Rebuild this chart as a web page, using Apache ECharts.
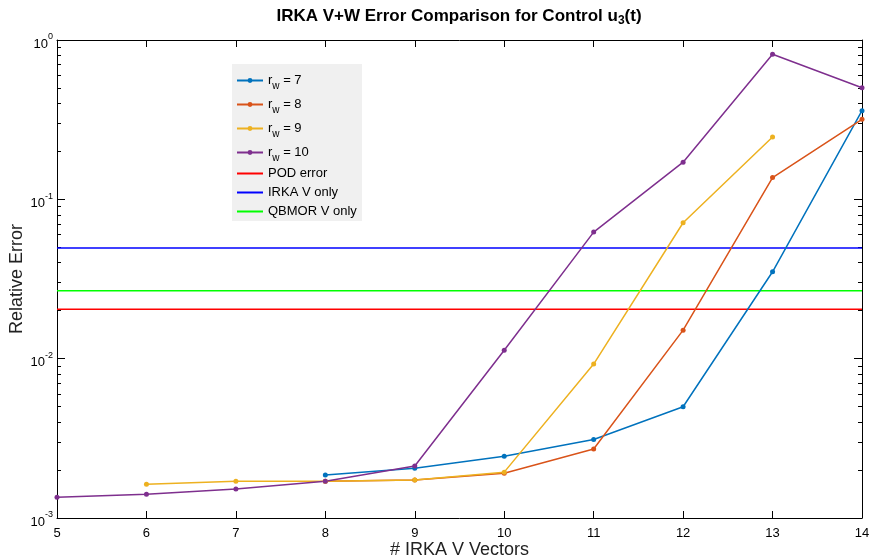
<!DOCTYPE html>
<html><head><meta charset="utf-8">
<script src="https://cdn.jsdelivr.net/npm/echarts@6/dist/echarts.min.js"></script>
<style>html,body{margin:0;padding:0;background:#fff}#c{width:869px;height:559px}</style>
</head><body><div id="c"></div>
<script>
// ---- data ----
const xRw7  = [8, 9, 10, 11, 12, 13, 14];
const yRw7  = [0.00186, 0.00205, 0.00244, 0.00311, 0.00499, 0.0351, 0.360];
const xRw8  = [8, 9, 10, 11, 12, 13, 14];
const yRw8  = [0.00170, 0.00173, 0.00191, 0.00271, 0.0151, 0.137, 0.318];
const xRw9  = [6, 7, 8, 9, 10, 11, 12, 13];
const yRw9  = [0.00163, 0.00170, 0.00170, 0.00173, 0.00194, 0.00925, 0.0713, 0.246];
const xRw10 = [5, 6, 7, 8, 9, 10, 11, 12, 13, 14];
const yRw10 = [0.00135, 0.00141, 0.00152, 0.00170, 0.00212, 0.0113, 0.0623, 0.171, 0.813, 0.502];
const podError = 0.0204;
const irkaVOnly = 0.0495;
const qbmorVOnly = 0.0267;
const xRange = [5, 14];
const yMinorTicks = [0.002,0.003,0.004,0.005,0.006,0.007,0.008,0.009,
                     0.02,0.03,0.04,0.05,0.06,0.07,0.08,0.09,
                     0.2,0.3,0.4,0.5,0.6,0.7,0.8,0.9];

const FONT = '"Liberation Sans", Arial, Helvetica, sans-serif';
const pair = (xs, ys) => xs.map((x, i) => [x, ys[i]]);
const hline = v => xRange.map(x => [x, v]);

const chart = echarts.init(document.getElementById('c'));
const axisLineStyle = {color: '#000', width: 1};
const supRich = {
  b: {fontSize: 13, fontFamily: FONT, color: '#000', padding: [8, 0, 0, 0]},
  s: {fontSize: 9, fontFamily: FONT, color: '#000', verticalAlign: 'top', padding: [3, 0, 3, 0]}
};
const yFmt = v => '{b|10}{s|' + Math.round(Math.log10(v)) + '}';

function yMajor(pos, labels) {
  return {
    type: 'log', logBase: 10, min: 0.001, max: 1, position: pos,
    axisLine: {show: true, onZero: false, lineStyle: axisLineStyle},
    axisTick: {show: true, inside: true, length: 8, lineStyle: {color: '#000'}},
    axisLabel: labels ? {show: true, formatter: yFmt, rich: supRich, margin: 4} : {show: false},
    splitLine: {show: false},
    minorTick: {show: false}
  };
}
// minor tick ruler (log10 space), carries no data
function yMinor(pos) {
  return {
    type: 'value', min: -3, max: 0, position: pos,
    axisLine: {show: false},
    axisTick: {show: true, inside: true, length: 4, lineStyle: {color: '#000'},
               customValues: yMinorTicks.map(v => Math.log10(v))},
    axisLabel: {show: false}, splitLine: {show: false}
  };
}

const legendRich = {
  r: {fontSize: 13, fontFamily: FONT, color: '#000'},
  w: {fontSize: 10, fontFamily: FONT, color: '#000', verticalAlign: 'bottom', padding: [11, 0, 0, 0]}
};
const legendFmt = name => {
  if (name.startsWith('r_w')) return '{r|r}{w|w}{r|' + name.slice(3) + '}';
  return '{r|' + name + '}';
};

function lineSeries(name, data, color) {
  return {name, type: 'line', data, color, symbol: 'circle', symbolSize: 5,
          lineStyle: {width: 1.5, color}, itemStyle: {color}, animation: false, z: 3};
}
function flatSeries(name, v, color) {
  return {name, type: 'line', data: hline(v), color, symbol: 'none',
          lineStyle: {width: 1.5, color}, animation: false, z: 2};
}
const noMark = name => ({name, itemStyle: {opacity: 0}});

chart.setOption({
  animation: false,
  backgroundColor: '#fff',
  title: {
    text: '{t|IRKA V+W Error Comparison for Control u}{sub|3}{t|(t)}',
    left: 454, top: 0, textAlign: 'center',
    textStyle: {rich: {
      t: {fontSize: 17, fontWeight: 'bold', fontFamily: FONT, color: '#000'},
      sub: {fontSize: 12, fontWeight: 'bold', fontFamily: FONT, color: '#000', verticalAlign: 'bottom', padding: [10, 0, 0, 0]}
    }}
  },
  grid: {left: 57, right: 7, top: 40, bottom: 41, containLabel: false, outerBoundsMode: 'none'},
  graphic: [{type: 'rect', left: 232, top: 64, shape: {width: 130, height: 157},
             style: {fill: '#f0f0f0'}, z: 0, silent: true}],
  legend: [
    {data: ['r_w = 7', 'r_w = 8', 'r_w = 9', 'r_w = 10'], orient: 'vertical',
     left: 231, top: 74, itemWidth: 26, itemHeight: 6, itemGap: 7, padding: [0, 0, 0, 5],
     formatter: legendFmt, textStyle: {rich: legendRich}},
    {data: [noMark('POD error'), noMark('IRKA V only'), noMark('QBMOR V only')], orient: 'vertical',
     left: 231, top: 167, itemWidth: 26, itemHeight: 6, itemGap: 6, padding: [0, 0, 0, 5],
     formatter: legendFmt, textStyle: {rich: legendRich}}
  ],
  xAxis: [
    {type: 'value', min: 5, max: 14, interval: 1, position: 'bottom',
     name: '# IRKA V Vectors', nameLocation: 'middle', nameGap: 23, nameMoveOverlap: false,
     nameTextStyle: {fontSize: 18, fontFamily: FONT, color: '#222'},
     axisLine: {show: true, onZero: false, lineStyle: axisLineStyle},
     axisTick: {show: true, inside: true, length: 7, lineStyle: {color: '#000'}},
     axisLabel: {fontSize: 13, fontFamily: FONT, color: '#000', margin: 9},
     splitLine: {show: false}},
    {type: 'value', min: 5, max: 14, interval: 1, position: 'top',
     axisLine: {show: true, onZero: false, lineStyle: axisLineStyle},
     axisTick: {show: true, inside: true, length: 7, lineStyle: {color: '#000'}},
     axisLabel: {show: false}, splitLine: {show: false}}
  ],
  yAxis: [
    Object.assign(yMajor('left', true), {
      name: 'Relative Error', nameLocation: 'middle', nameGap: 31, nameMoveOverlap: false,
      nameTextStyle: {fontSize: 18, fontFamily: FONT, color: '#222'}}),
    yMinor('left'),
    yMajor('right', false),
    yMinor('right')
  ],
  series: [
    lineSeries('r_w = 7', pair(xRw7, yRw7), '#0072BD'),
    lineSeries('r_w = 8', pair(xRw8, yRw8), '#D95319'),
    lineSeries('r_w = 9', pair(xRw9, yRw9), '#EDB120'),
    lineSeries('r_w = 10', pair(xRw10, yRw10), '#7E2F8E'),
    flatSeries('POD error', podError, '#FF0000'),
    flatSeries('IRKA V only', irkaVOnly, '#0000FF'),
    flatSeries('QBMOR V only', qbmorVOnly, '#00FF00')
  ]
});
</script></body></html>
